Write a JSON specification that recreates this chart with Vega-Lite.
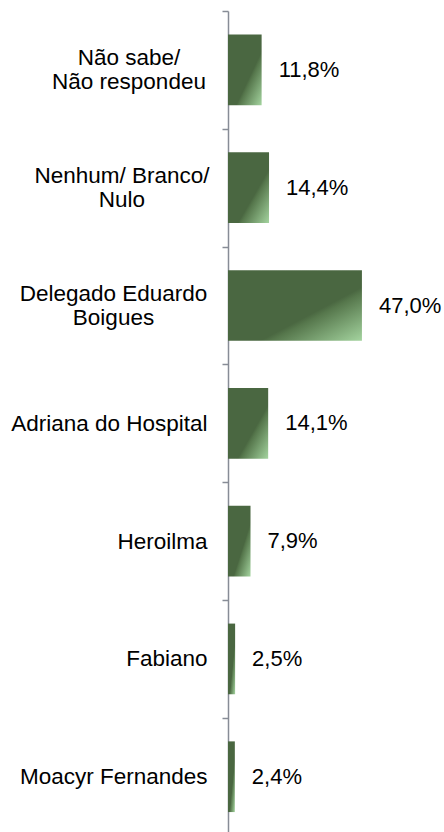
{
  "$schema": "https://vega.github.io/schema/vega-lite/v6.json",
  "autosize": {"type": "none"},
  "padding": {"left": 228, "top": 11, "right": 0, "bottom": 0},
  "width": 216,
  "height": 821,
  "background": "white",
  "data": {
    "values": [
      {"candidato": "Não sabe/\nNão respondeu", "pct": 0.118},
      {"candidato": "Nenhum/ Branco/\nNulo", "pct": 0.144},
      {"candidato": "Delegado Eduardo\nBoigues", "pct": 0.470},
      {"candidato": "Adriana do Hospital", "pct": 0.141},
      {"candidato": "Heroilma", "pct": 0.079},
      {"candidato": "Fabiano", "pct": 0.025},
      {"candidato": "Moacyr Fernandes", "pct": 0.024}
    ]
  },
  "encoding": {
    "y": {
      "field": "candidato",
      "type": "nominal",
      "sort": null,
      "scale": {"paddingInner": 0.4, "paddingOuter": 0.1846, "align": 0.5416},
      "axis": {
        "title": null,
        "bandPosition": 0,
        "tickOffset": -23.56,
        "domainColor": "#878c96",
        "domainWidth": 1.5,
        "tickColor": "#878c96",
        "tickWidth": 1.5,
        "tickSize": 6,
        "labelFont": "Liberation Sans",
        "labelFontSize": 22.5,
        "labelColor": "#000000",
        "labelLineHeight": 24,
        "labelLimit": 0,
        "labelExpr": "split(datum.label, '\\n')",
        "labelAlign": {"condition": {"test": "indexof(datum.value, '\\n') >= 0", "value": "center"}, "value": "right"},
        "labelOffset": {"condition": {"test": "indexof(datum.value, '\\n') >= 0", "value": 11.5}, "value": 23.56},
        "labelPadding": {
          "condition": [
            {"test": "indexof(datum.value, 'Não sabe') >= 0", "value": 93.5},
            {"test": "indexof(datum.value, 'Nenhum') >= 0", "value": 100.5},
            {"test": "indexof(datum.value, 'Delegado') >= 0", "value": 109}
          ],
          "value": 15
        }
      }
    },
    "x": {
      "field": "pct",
      "type": "quantitative",
      "scale": {"domain": [0, 0.758], "nice": false, "zero": true},
      "axis": null
    }
  },
  "layer": [
    {
      "mark": {
        "type": "bar",
        "fill": {
          "gradient": "linear",
          "x1": 0, "y1": 0, "x2": 1, "y2": 1,
          "stops": [
            {"offset": 0, "color": "#4a6741"},
            {"offset": 0.62, "color": "#4a6741"},
            {"offset": 0.66, "color": "#56774c"},
            {"offset": 1, "color": "#a4d49f"}
          ]
        }
      }
    },
    {
      "mark": {
        "type": "text",
        "align": "left",
        "baseline": "middle",
        "dx": 17,
        "font": "Liberation Sans",
        "fontSize": 22,
        "fill": "#000000"
      },
      "encoding": {
        "text": {"field": "pct", "type": "quantitative", "format": ".1%"}
      }
    }
  ],
  "config": {
    "view": {"stroke": null},
    "locale": {
      "number": {"decimal": ",", "thousands": ".", "grouping": [3], "currency": ["R$ ", ""]}
    }
  }
}
